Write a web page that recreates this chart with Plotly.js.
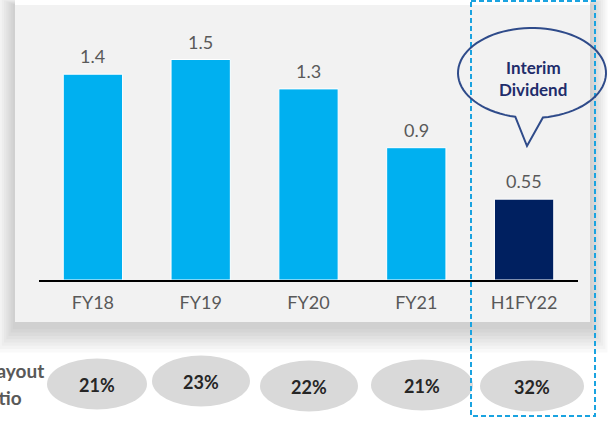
<!DOCTYPE html>
<html>
<head>
<meta charset="utf-8">
<script src="https://cdn.plot.ly/plotly-3.0.1.min.js"></script>
<style>html,body{margin:0;padding:0;background:#fff;}#chart{width:613px;height:421px;}</style>
</head>
<body>
<div id="chart"></div>
<script>
// ---- data ----
var categories = ["FY18", "FY19", "FY20", "FY21", "H1FY22"];
var dividends = [1.4, 1.5, 1.3, 0.9, 0.55];
var dividendLabels = ["1.4", "1.5", "1.3", "0.9", "0.55"];
var payoutRatios = ["21%", "23%", "22%", "21%", "32%"];
var calloutLines = ["Interim", "Dividend"];
var sideLabelLines = ["Payout", "Ratio"];

// ---- style / layout ----
var barColors = ["#00b0f0", "#00b0f0", "#00b0f0", "#00b0f0", "#002060"];
var W = 613, H = 421, L = 39, R = 35, T = 0, B = 141;
var PW = W - L - R, PH = H - T - B;
function px(x) { return (x - L) / PW; }
function py(y) { return (PH + T - y) / PH; }

var shapes = [];
// panel shadow
for (var k = 8; k >= 1; k--) {
  var g = k * 2.2;
  shapes.push({type: "rect", xref: "paper", yref: "paper", layer: "below",
    x0: px(15 - g), x1: px(590 + g), y0: py(5 - g * 0.4), y1: py(322 + g * 1.5 + 4),
    line: {width: 0}, fillcolor: "rgba(0,0,0,0.022)"});
}
// white top strip above panel
shapes.push({type: "rect", xref: "paper", yref: "paper", layer: "below",
  x0: px(15), x1: px(590), y0: py(0), y1: py(5), line: {width: 0}, fillcolor: "#ffffff"});
// panel
shapes.push({type: "rect", xref: "paper", yref: "paper", layer: "below",
  x0: px(15), x1: px(590), y0: py(5), y1: py(322), line: {width: 0}, fillcolor: "#f2f2f2"});

// payout ellipses
var ellX = [97, 201, 309, 422, 532];
var ellY = [384, 381, 386, 385, 386];
var ellRx = [50, 49, 49, 51, 52];
for (var i = 0; i < ellX.length; i++) {
  shapes.push({type: "circle", xref: "paper", yref: "paper", layer: "below",
    x0: px(ellX[i] - ellRx[i]), x1: px(ellX[i] + ellRx[i]),
    y0: py(ellY[i] - 25.5), y1: py(ellY[i] + 25.5),
    line: {width: 0}, fillcolor: "#d9d9d9"});
}

// dashed highlight box
shapes.push({type: "rect", xref: "paper", yref: "paper", layer: "above",
  x0: px(471), x1: px(595), y0: py(1), y1: py(416),
  line: {color: "#1aa3e0", width: 2, dash: "5px,3px"}, fillcolor: "rgba(0,0,0,0)"});

// callout bubble
(function () {
  var cx = 532, cy = 73, rx = 74, ry = 45;
  var t0 = 103 * Math.PI / 180, t1 = (81.5 + 360) * Math.PI / 180;
  var n = 80, d = "";
  for (var j = 0; j <= n; j++) {
    var t = t0 + (t1 - t0) * j / n;
    var X = cx + rx * Math.cos(t), Y = cy + ry * Math.sin(t);
    d += (j === 0 ? "M" : "L") + px(X).toFixed(5) + "," + py(Y).toFixed(5);
  }
  d += "L" + px(527).toFixed(5) + "," + py(146).toFixed(5) + "Z";
  shapes.push({type: "path", xref: "paper", yref: "paper", layer: "above", path: d,
    line: {color: "#2f4b8a", width: 2}, fillcolor: "rgba(0,0,0,0)"});
})();

var annotations = [];
for (var i = 0; i < categories.length; i++) {
  annotations.push({x: categories[i], y: dividends[i], xref: "x", yref: "y",
    text: dividendLabels[i], showarrow: false, yanchor: "bottom", xanchor: "center", yshift: 5,
    font: {family: "Lato", size: 18, color: "#595959"}});
  annotations.push({x: px(ellX[i]), y: py(ellY[i] + 1), xref: "paper", yref: "paper",
    text: payoutRatios[i], showarrow: false, yanchor: "middle", xanchor: "center",
    font: {family: "Lato", size: 18, color: "#262626", weight: "bold"}});
}
annotations.push({x: px(533), y: py(67), xref: "paper", yref: "paper", text: calloutLines[0],
  showarrow: false, xanchor: "center", yanchor: "middle",
  font: {family: "Lato", size: 17, color: "#1f2d6b", weight: "bold"}});
annotations.push({x: px(533), y: py(89), xref: "paper", yref: "paper", text: calloutLines[1],
  showarrow: false, xanchor: "center", yanchor: "middle",
  font: {family: "Lato", size: 17, color: "#1f2d6b", weight: "bold"}});
annotations.push({x: px(46), y: py(370), xref: "paper", yref: "paper", text: sideLabelLines[0],
  showarrow: false, xanchor: "right", yanchor: "middle",
  font: {family: "Lato", size: 19, color: "#595959", weight: "bold"}});
annotations.push({x: px(24), y: py(397), xref: "paper", yref: "paper", text: sideLabelLines[1],
  showarrow: false, xanchor: "right", yanchor: "middle",
  font: {family: "Lato", size: 19, color: "#595959", weight: "bold"}});

var trace = {
  type: "bar", x: categories, y: dividends,
  marker: {color: barColors, line: {color: "#ffffff", width: 1}},
  hoverinfo: "skip"
};

var layout = {
  width: W, height: H,
  margin: {l: L, r: R, t: T, b: B, pad: 0},
  paper_bgcolor: "#ffffff", plot_bgcolor: "rgba(0,0,0,0)",
  showlegend: false, bargap: 0.45,
  xaxis: {type: "category", showline: true, linecolor: "#000000", linewidth: 1.5,
    ticks: "", showgrid: false, zeroline: false, ticklabelstandoff: 6,
    tickfont: {family: "Lato", size: 18, color: "#595959"}, fixedrange: true},
  yaxis: {range: [0, PH / 147], visible: false, showgrid: false, zeroline: false, fixedrange: true},
  shapes: shapes, annotations: annotations
};

Plotly.newPlot("chart", [trace], layout, {displayModeBar: false, staticPlot: true});
</script>
</body>
</html>
